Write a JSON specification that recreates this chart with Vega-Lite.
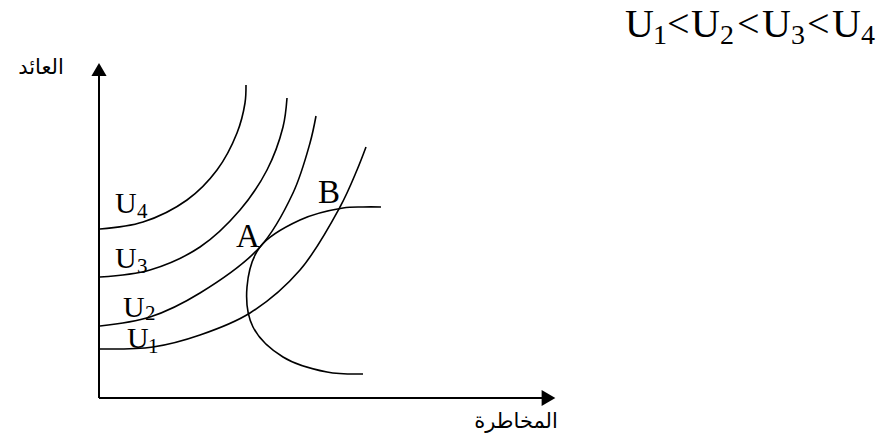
{
  "$schema": "https://vega.github.io/schema/vega-lite/v6.json",
  "width": 879,
  "height": 444,
  "padding": 0,
  "autosize": {"type": "none"},
  "background": "white",
  "config": {"view": {"stroke": null}},
  "datasets": {
    "curves": [
      {"s": "U4", "o": 1, "x": 0.1, "y": 16.9},
      {"s": "U4", "o": 2, "x": 4.4, "y": 17.6},
      {"s": "U4", "o": 3, "x": 8.8, "y": 19.8},
      {"s": "U4", "o": 4, "x": 11.8, "y": 22.8},
      {"s": "U4", "o": 5, "x": 13.8, "y": 26.5},
      {"s": "U4", "o": 6, "x": 14.6, "y": 29.5},
      {"s": "U4", "o": 7, "x": 14.7, "y": 31.3},
      {"s": "U3", "o": 1, "x": 0.1, "y": 12.1},
      {"s": "U3", "o": 2, "x": 5.1, "y": 12.8},
      {"s": "U3", "o": 3, "x": 10.1, "y": 15.1},
      {"s": "U3", "o": 4, "x": 14.1, "y": 18.8},
      {"s": "U3", "o": 5, "x": 16.8, "y": 22.8},
      {"s": "U3", "o": 6, "x": 18.4, "y": 27.1},
      {"s": "U3", "o": 7, "x": 18.8, "y": 30.0},
      {"s": "U2", "o": 1, "x": 0.1, "y": 7.2},
      {"s": "U2", "o": 2, "x": 5.1, "y": 8.1},
      {"s": "U2", "o": 3, "x": 10.1, "y": 10.5},
      {"s": "U2", "o": 4, "x": 16.1, "y": 15.1},
      {"s": "U2", "o": 5, "x": 19.4, "y": 20.5},
      {"s": "U2", "o": 6, "x": 21.1, "y": 25.5},
      {"s": "U2", "o": 7, "x": 21.7, "y": 28.2},
      {"s": "U1", "o": 1, "x": 0.1, "y": 4.9},
      {"s": "U1", "o": 2, "x": 5.4, "y": 5.1},
      {"s": "U1", "o": 3, "x": 10.1, "y": 6.3},
      {"s": "U1", "o": 4, "x": 15.1, "y": 8.5},
      {"s": "U1", "o": 5, "x": 20.1, "y": 12.8},
      {"s": "U1", "o": 6, "x": 24.1, "y": 19.1},
      {"s": "U1", "o": 7, "x": 25.8, "y": 22.8},
      {"s": "U1", "o": 8, "x": 26.7, "y": 25.1},
      {"s": "F", "o": 1, "x": 28.2, "y": 19.1},
      {"s": "F", "o": 2, "x": 26.4, "y": 19.1},
      {"s": "F", "o": 3, "x": 24.4, "y": 19.0},
      {"s": "F", "o": 4, "x": 20.1, "y": 17.8},
      {"s": "F", "o": 5, "x": 16.1, "y": 15.1},
      {"s": "F", "o": 6, "x": 14.8, "y": 11.1},
      {"s": "F", "o": 7, "x": 15.4, "y": 7.1},
      {"s": "F", "o": 8, "x": 18.4, "y": 4.1},
      {"s": "F", "o": 9, "x": 22.8, "y": 2.6},
      {"s": "F", "o": 10, "x": 26.4, "y": 2.4}
    ],
    "axes": [
      {"x": 0, "y": 0, "x2": 0, "y2": 32.85},
      {"x": 0, "y": 0, "x2": 44.95, "y2": 0}
    ],
    "arrowUp": [{"x": 0, "y": 32.85}],
    "arrowRight": [{"x": 44.95, "y": 0}],
    "labels": [
      {"t": "U", "x": 1.6, "y": 18.5},
      {"t": "U", "x": 1.6, "y": 13.0},
      {"t": "U", "x": 2.4, "y": 8.1},
      {"t": "U", "x": 2.8, "y": 5.0}
    ],
    "points": [
      {"t": "A", "x": 13.7, "y": 15.1},
      {"t": "B", "x": 21.9, "y": 19.5}
    ],
    "subs": [
      {"t": "4", "x": 3.8, "y": 18.0},
      {"t": "3", "x": 3.8, "y": 12.5},
      {"t": "2", "x": 4.6, "y": 7.8},
      {"t": "1", "x": 4.9, "y": 4.5}
    ],
    "title": [
      {"t": "U", "x": 52.6, "y": 36.1},
      {"t": "<", "x": 56.8, "y": 36.1},
      {"t": "U", "x": 59.2, "y": 36.1},
      {"t": "<", "x": 63.8, "y": 36.1},
      {"t": "U", "x": 66.3, "y": 36.1},
      {"t": "<", "x": 70.8, "y": 36.1},
      {"t": "U", "x": 73.3, "y": 36.1}
    ],
    "titleSubs": [
      {"t": "1", "x": 55.4, "y": 35.4},
      {"t": "2", "x": 62.1, "y": 35.4},
      {"t": "3", "x": 69.2, "y": 35.4},
      {"t": "4", "x": 76.2, "y": 35.4}
    ],
    "arabic": [
      {"t": "العائد", "x": -5.8, "y": 33.0},
      {"t": "المخاطرة", "x": 41.7, "y": -2.4}
    ]
  },
  "layer": [
    {
      "data": {"name": "axes"},
      "mark": {"type": "rule", "color": "black", "strokeWidth": 2},
      "encoding": {
        "x": {"field": "x", "type": "quantitative", "scale": {"domain": [-9.9, 78.0], "nice": false, "zero": false}, "axis": null},
        "y": {"field": "y", "type": "quantitative", "scale": {"domain": [-4.6, 39.8], "nice": false, "zero": false}, "axis": null},
        "x2": {"field": "x2"},
        "y2": {"field": "y2"}
      }
    },
    {
      "data": {"name": "arrowUp"},
      "mark": {"type": "point", "shape": "triangle-up", "filled": true, "color": "black", "size": 230, "opacity": 1},
      "encoding": {
        "x": {"field": "x", "type": "quantitative"},
        "y": {"field": "y", "type": "quantitative"}
      }
    },
    {
      "data": {"name": "arrowRight"},
      "mark": {"type": "point", "shape": "triangle-right", "filled": true, "color": "black", "size": 250, "opacity": 1},
      "encoding": {
        "x": {"field": "x", "type": "quantitative"},
        "y": {"field": "y", "type": "quantitative"}
      }
    },
    {
      "data": {"name": "curves"},
      "mark": {"type": "line", "color": "black", "strokeWidth": 1.6, "interpolate": "catmull-rom"},
      "encoding": {
        "x": {"field": "x", "type": "quantitative"},
        "y": {"field": "y", "type": "quantitative"},
        "detail": {"field": "s"},
        "order": {"field": "o"}
      }
    },
    {
      "data": {"name": "labels"},
      "mark": {"type": "text", "font": "Liberation Serif", "fontSize": 30, "align": "left", "baseline": "alphabetic", "color": "black"},
      "encoding": {
        "x": {"field": "x", "type": "quantitative"},
        "y": {"field": "y", "type": "quantitative"},
        "text": {"field": "t"}
      }
    },
    {
      "data": {"name": "points"},
      "mark": {"type": "text", "font": "Liberation Serif", "fontSize": 33, "align": "left", "baseline": "alphabetic", "color": "black"},
      "encoding": {
        "x": {"field": "x", "type": "quantitative"},
        "y": {"field": "y", "type": "quantitative"},
        "text": {"field": "t"}
      }
    },
    {
      "data": {"name": "subs"},
      "mark": {"type": "text", "font": "Liberation Serif", "fontSize": 21, "align": "left", "baseline": "alphabetic", "color": "black"},
      "encoding": {
        "x": {"field": "x", "type": "quantitative"},
        "y": {"field": "y", "type": "quantitative"},
        "text": {"field": "t"}
      }
    },
    {
      "data": {"name": "title"},
      "mark": {"type": "text", "font": "Liberation Serif", "fontSize": 40, "align": "left", "baseline": "alphabetic", "color": "black"},
      "encoding": {
        "x": {"field": "x", "type": "quantitative"},
        "y": {"field": "y", "type": "quantitative"},
        "text": {"field": "t"}
      }
    },
    {
      "data": {"name": "titleSubs"},
      "mark": {"type": "text", "font": "Liberation Serif", "fontSize": 28, "align": "left", "baseline": "alphabetic", "color": "black"},
      "encoding": {
        "x": {"field": "x", "type": "quantitative"},
        "y": {"field": "y", "type": "quantitative"},
        "text": {"field": "t"}
      }
    },
    {
      "data": {"name": "arabic"},
      "mark": {"type": "text", "font": "DejaVu Sans", "fontSize": 21, "align": "center", "baseline": "middle", "color": "black"},
      "encoding": {
        "x": {"field": "x", "type": "quantitative"},
        "y": {"field": "y", "type": "quantitative"},
        "text": {"field": "t"}
      }
    }
  ]
}
